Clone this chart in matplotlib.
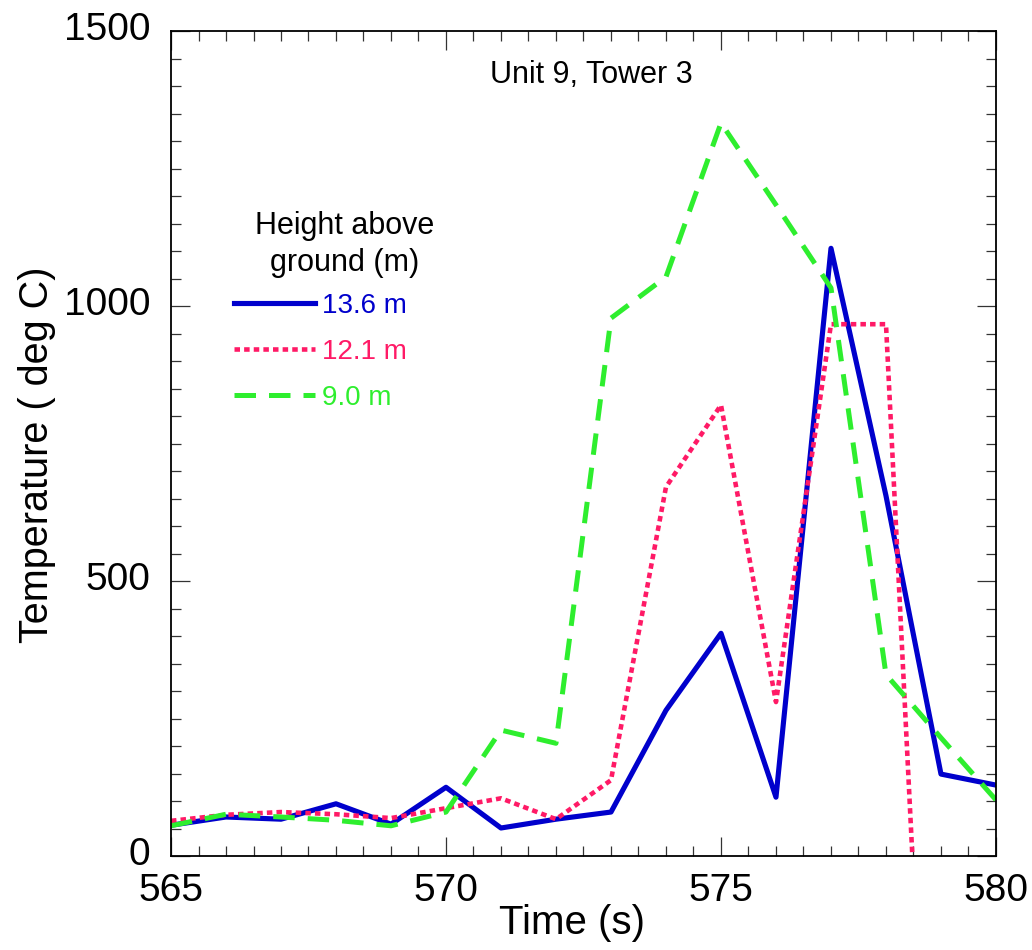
import matplotlib
matplotlib.use('Agg')
import matplotlib.pyplot as plt
from matplotlib.ticker import MultipleLocator
from matplotlib.transforms import ScaledTranslation

plt.rcParams['font.family'] = ['Liberation Sans', 'DejaVu Sans']

# --- Data ---
time_s = [565, 566, 567, 568, 569, 570, 571, 572, 573, 574, 575, 576, 577, 578, 579, 580]
temp_13_6 = [56, 71, 67, 95, 58, 125, 51, 67, 80, 265, 405, 107, 1105, 655, 149, 129]
temp_12_1 = [64, 75, 80, 76, 69, 87, 105, 67, 138, 671, 820, 280, 967, 967, -1050]
temp_9_0 = [55, 76, 71, 65, 55, 80, 229, 205, 978, 1053, 1333, 1184, 1033, 330, 215, 102]

labels = ['13.6 m', '12.1 m', '9.0 m']
colors = ['#0000CC', '#FF1A66', '#2EEE2E']

fig = plt.figure(figsize=(10.32, 9.5), dpi=100)
ax = fig.add_axes([0.1657, 0.0989, 0.7994, 0.8684])

ax.plot(time_s, temp_13_6, color=colors[0], lw=3.7, label=labels[0])
ax.plot(time_s[:len(temp_12_1)], temp_12_1, color=colors[1], lw=3.3,
        dashes=(1.2, 0.9), label=labels[1])
ax.plot(time_s, temp_9_0, color=colors[2], lw=3.6, dashes=(4.3, 2.6), label=labels[2])

ax.set_xlim(565, 580)
ax.set_ylim(0, 1500)
ax.xaxis.set_major_locator(MultipleLocator(5))
ax.xaxis.set_minor_locator(MultipleLocator(0.5))
ax.yaxis.set_major_locator(MultipleLocator(500))
ax.yaxis.set_minor_locator(MultipleLocator(50))
ax.tick_params(which='both', direction='in', top=True, right=True, labelsize=28,
               width=0.9, color='#333333')
ax.tick_params(which='major', length=14)
ax.tick_params(which='minor', length=7)
ax.tick_params(axis='x', which='major', pad=12)
ax.tick_params(axis='y', which='major', pad=15)
for sp in ax.spines.values():
    sp.set_linewidth(1.3)

# y tick labels sit a little above their ticks in the reference
shift = ScaledTranslation(0, 5 / 100, fig.dpi_scale_trans)
for lab in ax.get_yticklabels():
    lab.set_transform(lab.get_transform() + shift)

ax.set_xlabel('Time (s)', fontsize=29)
ax.set_ylabel('Temperature ( deg C)', fontsize=28.5)
ax.xaxis.set_label_coords(0.486, -0.058)
ax.yaxis.set_label_coords(-0.14, 0.486)

ax.text(0.509, 0.947, 'Unit 9, Tower 3', transform=ax.transAxes,
        ha='center', va='center', fontsize=22)

# legend heading drawn as its own text so it can sit off-centre like the reference
ax.text(0.211, 0.741, 'Height above\nground (m)', transform=ax.transAxes,
        ha='center', va='center', fontsize=22, linespacing=1.3, multialignment='center')

leg = ax.legend(loc='upper left', bbox_to_anchor=(0.0764, 0.683), frameon=False,
                fontsize=20, handlelength=2.9, handletextpad=0.25,
                labelspacing=0.72, borderpad=0, borderaxespad=0,
                labelcolor='linecolor')

fig.savefig('out.png', dpi=100)
plt.close(fig)
